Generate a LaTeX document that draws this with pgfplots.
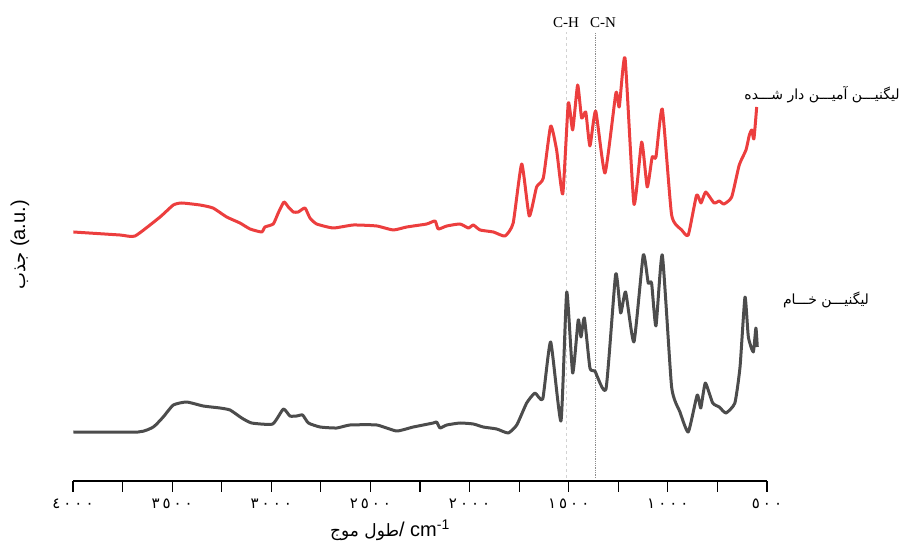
\documentclass[border=0pt]{standalone}
\usepackage{fontspec}
\setmainfont{Liberation Sans}
\newfontfamily\arabicfont[Script=Arabic]{DejaVu Sans}
\newfontfamily\seriffont{Liberation Serif}
\TeXXeTstate=1
\usepackage{pgfplots}
\pgfplotsset{compat=1.18}
\definecolor{ligred}{RGB}{236,62,62}
\definecolor{liggray}{RGB}{76,76,76}
\newcommand{\dsp}{\hspace{3pt}}

\begin{document}
\begin{tikzpicture}
\path[use as bounding box] (-73pt,-67pt) rectangle (828pt,481pt);
\begin{axis}[
  at={(0,0)}, anchor=south west, scale only axis,
  width=694pt, height=451pt,
  xmin=500, xmax=4000, x dir=reverse,
  ymin=0, ymax=451,
  axis x line*=bottom, axis y line=none,
  axis line style={line width=1.2pt, black},
  xtick={500,1000,...,4000},
  minor xtick={750,1250,...,3750},
  xticklabels={
    {٥\dsp٠\dsp٠}, {١\dsp٠\dsp٠\dsp٠}, {١\dsp٥\dsp٠\dsp٠}, {٢\dsp٠\dsp٠\dsp٠},
    {٢\dsp٥\dsp٠\dsp٠}, {٣\dsp٠\dsp٠\dsp٠}, {٣\dsp٥\dsp٠\dsp٠}, {٤\dsp٠\dsp٠\dsp٠}},
  xticklabel style={font=\arabicfont\fontsize{15}{15}\selectfont, yshift=-3pt},
  tick align=outside,
  major tick length=11pt, minor tick length=11pt,
  every tick/.style={black, line width=1.2pt},
  clip=false,
]
% reference lines
\addplot[gray!35, dashed, line width=0.8pt] coordinates {(1510,3) (1510,449)};
\addplot[gray!90, densely dotted, line width=1.3pt] coordinates {(1364,3) (1364,449)};

% aminated lignin
\addplot[ligred, line width=3pt, line join=round, smooth, tension=0.3] table {
3998 249
3763 246
3687 245
3561 264
3494 276
3452 278
3360 276
3294 273
3225 264
3158 258
3107 252
3048 249
3032 254
2990 257
2965 268
2936 279
2914 274
2889 269
2864 269
2830 273
2805 263
2771 257
2687 253
2586 256
2468 255
2385 251
2317 254
2216 257
2174 260
2158 252
2115 255
2048 257
2006 253
1981 256
1947 251
1880 249
1821 245
1780 258
1737 317
1699 265
1662 294
1628 303
1591 355
1561 331
1530 287
1502 378
1480 351
1455 396
1435 363
1414 369
1393 335
1364 370
1317 308
1262 388
1245 374
1216 423
1171 277
1132 339
1104 294
1079 324
1060 324
1028 372
981 266
930 251
897 246
855 286
833 278
809 289
767 278
741 280
717 277
678 284
640 316
606 331
589 346
577 351
566 342
552 374
};

% raw lignin
\addplot[liggray, line width=3pt, line join=round, smooth, tension=0.3] table {
3998 49
3671 49
3595 54
3545 64
3494 76
3427 79
3343 75
3259 73
3208 71
3149 63
3099 58
2993 57
2939 72
2906 65
2872 65
2842 66
2813 58
2754 54
2670 53
2603 56
2468 56
2368 50
2284 54
2183 58
2166 59
2149 53
2115 56
2048 58
1981 57
1931 54
1863 52
1805 48
1762 56
1712 78
1670 88
1631 82
1591 139
1539 60
1510 189
1480 108
1452 161
1438 144
1421 163
1393 113
1368 110
1312 92
1263 207
1238 168
1213 189
1171 139
1124 226
1099 198
1082 198
1060 155
1028 226
981 94
939 69
897 49
852 86
834 73
811 98
774 78
741 74
707 68
662 78
636 114
611 184
594 144
569 129
556 153
549 134
};
\end{axis}

\node[font=\seriffont\fontsize{15}{15}\selectfont] at (493pt,458pt) {C-H};
\node[font=\seriffont\fontsize{15}{15}\selectfont] at (530pt,458pt) {C-N};

\node[font=\arabicfont\fontsize{14}{14}\selectfont] at (749pt,386pt)
  {\beginR لیگنیـــن آمیـــن دار شـــده\endR};
\node[font=\arabicfont\fontsize{14}{14}\selectfont] at (753pt,181pt)
  {\beginR لیگنیـــن خـــام\endR};

\node[anchor=base, font=\fontsize{20}{20}\selectfont] at (317pt,-56pt)
  {{\arabicfont\fontsize{17}{17}\selectfont\beginR طول موج\endR}/ cm\textsuperscript{-1}};

\node[rotate=90, font=\fontsize{20}{20}\selectfont] at (-53pt,236pt)
  {{\arabicfont\fontsize{18}{18}\selectfont\beginR جذب\endR} (a.u.)};
\end{tikzpicture}
\end{document}
